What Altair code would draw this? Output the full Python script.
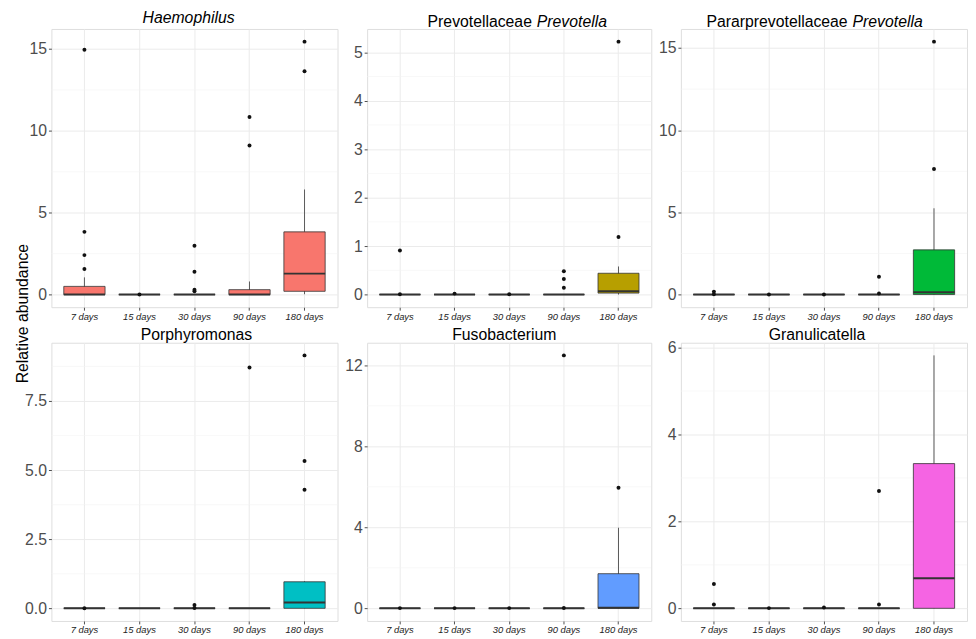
import altair as alt
import pandas as pd

days = ["7 days", "15 days", "30 days", "90 days", "180 days"]

colors = ["#F8766D", "#B79F00", "#00BA38", "#00BFC4", "#619CFF", "#F564E3"]

# Haemophilus
h_q1 = [0, 0, 0, 0, 0.2]
h_med = [0, 0, 0, 0, 1.28]
h_q3 = [0.5, 0, 0, 0.3, 3.83]
h_lo = [0, 0, 0, 0, 0.02]
h_hi = [1.05, 0, 0, 0.8, 6.42]
h_out = [[14.95, 3.83, 2.41, 1.56], [0.01], [2.98, 1.4, 0.3, 0.2], [10.85, 9.1], [15.45, 13.64]]

# Prevotellaceae Prevotella
p_q1 = [0, 0, 0, 0, 0.03]
p_med = [0, 0, 0, 0, 0.07]
p_q3 = [0, 0, 0, 0, 0.44]
p_lo = [0, 0, 0, 0, 0]
p_hi = [0, 0, 0, 0, 0.58]
p_out = [[0.91, 0.005], [0.02], [0.005], [0.48, 0.32, 0.14], [5.22, 1.19]]

# Pararprevotellaceae Prevotella
pp_q1 = [0, 0, 0, 0, 0]
pp_med = [0, 0, 0, 0, 0.14]
pp_q3 = [0, 0, 0, 0, 2.72]
pp_lo = [0, 0, 0, 0, 0]
pp_hi = [0, 0, 0, 0, 5.25]
pp_out = [[0.18, 0.02], [0.01], [0.01], [1.09, 0.06], [15.39, 7.64]]

# Porphyromonas
po_q1 = [0, 0, 0, 0, 0]
po_med = [0, 0, 0, 0, 0.21]
po_q3 = [0, 0, 0, 0, 0.96]
po_lo = [0, 0, 0, 0, 0]
po_hi = [0, 0, 0, 0, 0.98]
po_out = [[0.005], [], [0.12, 0.01], [8.71], [9.15, 5.33, 4.29]]

# Fusobacterium
f_q1 = [0, 0, 0, 0, 0]
f_med = [0, 0, 0, 0, 0.03]
f_q3 = [0, 0, 0, 0, 1.71]
f_lo = [0, 0, 0, 0, 0]
f_hi = [0, 0, 0, 0, 3.98]
f_out = [[0.01], [0.01], [0.01], [12.49, 0.02], [5.95]]

# Granulicatella
g_q1 = [0, 0, 0, 0, 0]
g_med = [0, 0, 0, 0, 0.69]
g_q3 = [0, 0, 0, 0, 3.33]
g_lo = [0, 0, 0, 0, 0]
g_hi = [0, 0, 0, 0, 5.82]
g_out = [[0.56, 0.09], [0.005], [0.02], [2.70, 0.09], []]

y_ticks = [[0, 5, 10, 15], [0, 1, 2, 3, 4, 5], [0, 5, 10, 15],
           [0, 2.5, 5, 7.5], [0, 4, 8, 12], [0, 2, 4, 6]]
y_minor = [[2.5, 7.5, 12.5], [0.5, 1.5, 2.5, 3.5, 4.5], [2.5, 7.5, 12.5],
           [1.25, 3.75, 6.25, 8.75], [2, 6, 10], [1, 3, 5]]
y_formats = ["d", "d", "d", ".1f", "d", "d"]

# title parts: (text, style, align, x-offset from panel left, baseline offset above panel)
titles = [
    [("Haemophilus", "italic", "center", 139, -6.5)],
    [("Prevotellaceae", "normal", "right", 167, -2.5), ("Prevotella", "italic", "left", 172, -2.5)],
    [("Pararprevotellaceae", "normal", "right", 169, -2.5), ("Prevotella", "italic", "left", 174, -2.5)],
    [("Porphyromonas", "normal", "center", 147, -2.5)],
    [("Fusobacterium", "normal", "center", 139, -2.5)],
    [("Granulicatella", "normal", "center", 138, -2.5)],
]

stats = [
    (h_q1, h_med, h_q3, h_lo, h_hi, h_out),
    (p_q1, p_med, p_q3, p_lo, p_hi, p_out),
    (pp_q1, pp_med, pp_q3, pp_lo, pp_hi, pp_out),
    (po_q1, po_med, po_q3, po_lo, po_hi, po_out),
    (f_q1, f_med, f_q3, f_lo, f_hi, f_out),
    (g_q1, g_med, g_q3, g_lo, g_hi, g_out),
]

widths = [290, 288, 290]
height = 282
FONT = "Liberation Sans"


def make_panel(i):
    q1, med, q3, lo, hi, out = stats[i]
    w = widths[i % 3]
    color = colors[i]
    box_df = pd.DataFrame({"day": days, "q1": q1, "med": med, "q3": q3, "lo": lo, "hi": hi})
    out_df = pd.DataFrame([(d, v) for d, vs in zip(days, out) for v in vs], columns=["day", "value"])
    allv = [v for vs in out for v in vs] + hi + q3
    vmax, vmin = max(allv), 0.0
    rng = vmax - vmin
    yscale = alt.Scale(domain=[vmin - 0.05 * rng, vmax + 0.05 * rng], nice=False, zero=False)

    ax_kw = dict(values=y_ticks[i], format=y_formats[i], labelFontSize=16, labelColor="#4D4D4D",
                 tickColor="#4D4D4D", tickSize=3, labelPadding=2, domain=False, grid=True,
                 gridColor="#EBEBEB", gridWidth=1, labelFont=FONT)
    if i == 0:
        ax_kw.update(title="Relative abundance", titleY=288, titleX=-29, titleBaseline="middle",
                     titleAlign="center", titleAngle=270, titleFontSize=16, titleFontWeight="normal",
                     titleColor="black", titleFont=FONT)
    else:
        ax_kw.update(title=None)
    yaxis = alt.Axis(**ax_kw)

    xscale = alt.Scale(domain=days, paddingInner=0, paddingOuter=0.1)
    xaxis = alt.Axis(title=None, labelAngle=0, labelFontStyle="italic", labelFontSize=9.5,
                     labelColor="#222222", tickColor="#4D4D4D", tickSize=3, labelPadding=1,
                     domain=False, grid=True, gridColor="#EBEBEB", gridWidth=1, labelFont=FONT)

    def X():
        return alt.X("day:N", sort=days, scale=xscale, axis=xaxis)

    def Y(field):
        return alt.Y(field, scale=yscale, axis=yaxis)

    minor = alt.Chart(pd.DataFrame({"v": y_minor[i]})).mark_rule(color="#F3F3F3", strokeWidth=0.6).encode(
        y=Y("v:Q"))

    base = alt.Chart(box_df)
    whisk = base.mark_rule(color="#595959", strokeWidth=1).encode(
        x=X(), y=Y("lo:Q"), y2="hi:Q")
    box = base.mark_bar(width=alt.RelativeBandSize(0.75), fill=color, stroke="#333333",
                        strokeWidth=0.8, opacity=1).encode(
        x=X(), y=Y("q1:Q"), y2="q3:Q")
    mtick = base.mark_tick(size=0.75 * w / 5.2, thickness=2, color="#333333", opacity=1).encode(
        x=X(), y=Y("med:Q"))
    pts = alt.Chart(out_df).mark_circle(size=16, color="#111111", opacity=1).encode(
        x=X(), y=Y("value:Q"))

    layers = [minor, whisk, box, mtick, pts]
    for text, style, align, xo, yo in titles[i]:
        layers.append(
            alt.Chart(pd.DataFrame({"t": [text]})).mark_text(
                fontSize=16, fontStyle=style, align=align, baseline="alphabetic",
                color="black", font=FONT).encode(
                text="t:N", x=alt.value(xo), y=alt.value(yo)))
    return alt.layer(*layers).properties(width=w, height=height)


charts = [make_panel(i) for i in range(6)]

chart = alt.concat(*charts, columns=3, spacing={"row": 36, "column": 30}, bounds="flush").properties(
    padding={"left": 6, "top": -3, "right": 0, "bottom": 0}
).configure_view(stroke="#7A7A7A", strokeWidth=1.2).configure(font=FONT)

chart.save("out.html", embed_options={"renderer": "svg", "actions": False})
